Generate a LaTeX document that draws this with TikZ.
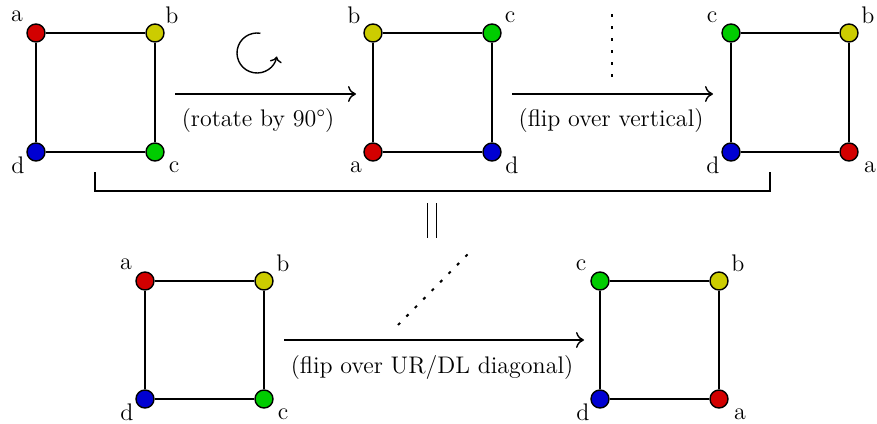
\documentclass[tikz,border=0pt]{standalone}
\usetikzlibrary{arrows.meta}
\definecolor{vred}{RGB}{210,0,0}
\definecolor{vyellow}{RGB}{204,204,0}
\definecolor{vgreen}{RGB}{0,204,0}
\definecolor{vblue}{RGB}{0,0,210}
\begin{document}
\begin{tikzpicture}[x=0.5pt,y=-0.5pt,font=\large,
  vtx/.style={circle,draw=black,line width=0.7pt,minimum size=9pt,inner sep=0pt},
  edge/.style={line width=0.7pt},
  lbl/.style={inner sep=0pt},
  arr/.style={line width=0.7pt,-{To[length=4pt,width=8pt]}},
  dots/.style={line width=1pt,dash pattern=on 1.5pt off 4.5pt},
  captxt/.style={inner sep=0pt}]
\useasboundingbox (0,0) rectangle (877,423);
% square 1
\node[vtx,fill=vred] (s1a) at (36,33) {};
\node[vtx,fill=vyellow] (s1b) at (155,33) {};
\node[vtx,fill=vgreen] (s1c) at (155,152) {};
\node[vtx,fill=vblue] (s1d) at (36,152) {};
\draw[edge] (s1a)--(s1b)--(s1c)--(s1d)--(s1a);
\node[lbl] (l1a) at (17,16) {a};
\node[lbl] (l1b) at (172,15) {b};
\node[lbl] (l1c) at (174,167) {c};
\node[lbl] (l1d) at (18,165) {d};
% square 2
\node[vtx,fill=vyellow] (s2b) at (373,33) {};
\node[vtx,fill=vgreen] (s2c) at (492,33) {};
\node[vtx,fill=vblue] (s2d) at (492,152) {};
\node[vtx,fill=vred] (s2a) at (373,152) {};
\draw[edge] (s2b)--(s2c)--(s2d)--(s2a)--(s2b);
\node[lbl] (l2b) at (354,15) {b};
\node[lbl] (l2c) at (510,17) {c};
\node[lbl] (l2a) at (356,167) {a};
\node[lbl] (l2d) at (512,165) {d};
% square 3
\node[vtx,fill=vgreen] (s3c) at (731,33) {};
\node[vtx,fill=vyellow] (s3b) at (849,33) {};
\node[vtx,fill=vred] (s3a) at (849,152) {};
\node[vtx,fill=vblue] (s3d) at (731,152) {};
\draw[edge] (s3c)--(s3b)--(s3a)--(s3d)--(s3c);
\node[lbl] (l3c) at (712,17) {c};
\node[lbl] (l3b) at (868,15) {b};
\node[lbl] (l3a) at (870,167) {a};
\node[lbl] (l3d) at (713,165) {d};
% square 4
\node[vtx,fill=vred] (s4a) at (145,281) {};
\node[vtx,fill=vyellow] (s4b) at (264,281) {};
\node[vtx,fill=vgreen] (s4c) at (264,399) {};
\node[vtx,fill=vblue] (s4d) at (145,399) {};
\draw[edge] (s4a)--(s4b)--(s4c)--(s4d)--(s4a);
\node[lbl] (l4a) at (126,264) {a};
\node[lbl] (l4b) at (283,263) {b};
\node[lbl] (l4c) at (283,414) {c};
\node[lbl] (l4d) at (127,412) {d};
% square 5
\node[vtx,fill=vgreen] (s5c) at (600,281) {};
\node[vtx,fill=vyellow] (s5b) at (719,281) {};
\node[vtx,fill=vred] (s5a) at (719,399) {};
\node[vtx,fill=vblue] (s5d) at (600,399) {};
\draw[edge] (s5c)--(s5b)--(s5a)--(s5d)--(s5c);
\node[lbl] (l5c) at (581,265) {c};
\node[lbl] (l5b) at (738,263) {b};
\node[lbl] (l5a) at (740,414) {a};
\node[lbl] (l5d) at (583,412) {d};
% arrows
\coordinate (a1s) at (175,94); \coordinate (a1e) at (356,94);
\draw[arr] (a1s) -- (a1e);
\node[captxt] (c1) at (258,121) {(rotate by 90\textdegree)};
\coordinate (rc) at (257,53);
\draw[line width=0.7pt,-{To[length=3pt,width=6pt]}] ([shift={(80:10pt)}]rc) arc[start angle=80,end angle=350,radius=10pt];
\coordinate (a2s) at (512,94); \coordinate (a2e) at (713,94);
\draw[arr] (a2s) -- (a2e);
\node[captxt] (c2) at (611,121) {(flip over vertical)};
\coordinate (v1) at (612,14); \coordinate (v2) at (612,78);
\draw[dots] (v1) -- (v2);
\coordinate (a3s) at (284,340); \coordinate (a3e) at (584,340);
\draw[arr] (a3s) -- (a3e);
\node[captxt] (c3) at (432,368) {(flip over UR/DL diagonal)};
\coordinate (d1) at (398,325); \coordinate (d2) at (468,254);
\draw[dots] (d1) -- (d2);
% bracket
\coordinate (b1) at (95,172); \coordinate (b2) at (95,191);
\coordinate (b3) at (770,191); \coordinate (b4) at (770,172);
\draw[line width=0.8pt] (b1)--(b2)--(b3)--(b4);
% equals
\coordinate (e1) at (427,203); \coordinate (e2) at (427,238);
\coordinate (e3) at (436,203); \coordinate (e4) at (436,238);
\draw[line width=0.5pt] (e1)--(e2) (e3)--(e4);
\end{tikzpicture}
\end{document}
